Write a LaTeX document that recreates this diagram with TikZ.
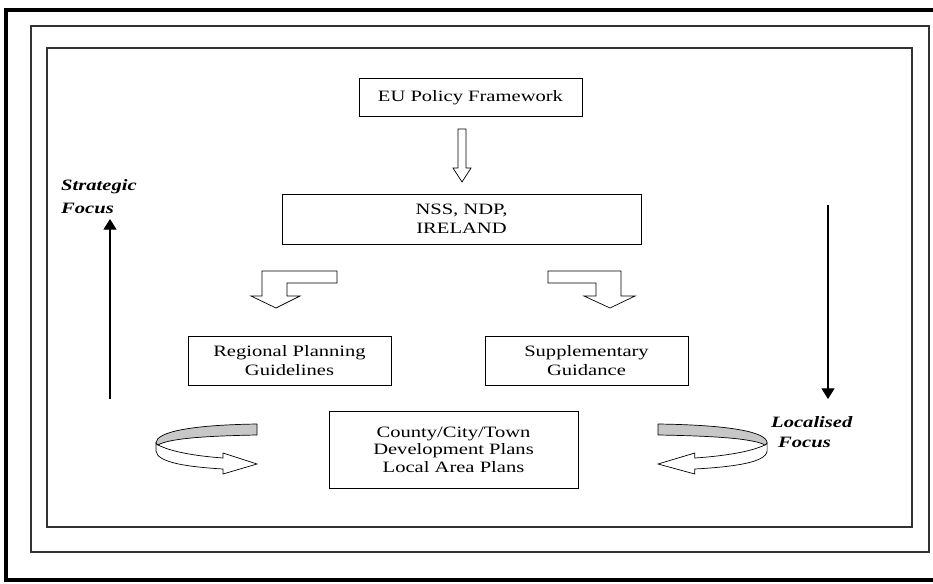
\documentclass[tikz,border=0pt]{standalone}
\usepackage{fontspec}
\setmainfont[FakeStretch=1.3]{Liberation Serif}
\usetikzlibrary{arrows.meta}
\tikzset{
  box/.style={draw=black, line width=0.8pt, fill=white, inner sep=0pt, align=center,
    font=\fontsize{13.5}{16}\selectfont},
  lbl/.style={font=\fontsize{13.5}{16}\selectfont\bfseries\itshape, inner sep=0pt, anchor=west},
  blockarrow/.style={draw=black, line width=0.6pt, fill=white, line join=miter},
  grayband/.style={draw=black, line width=0.6pt, fill=black!22, line join=round},
  whiteband/.style={draw=black, line width=0.6pt, fill=white, line join=miter},
  focusarrow/.style={draw=black, line width=1.1pt, -{Triangle[width=0.39cm,length=0.32cm]}},
  frame/.style={draw=black!80, line width=1.2pt}
}
\begin{document}
\begin{tikzpicture}[x=0.03cm,y=-0.03cm]
\useasboundingbox (0,0) rectangle (933,583);
% frames
\draw[line width=3.4pt] (945,10) -- (6,10) -- (6,580) -- (945,580);
\draw[frame] (31,26) rectangle (929,552);
\draw[frame] (47,48) rectangle (912,527);

% boxes
\node[box, minimum width=6.69cm, minimum height=1.14cm] (eu) at (470.5,97.5) {EU Policy Framework};
\node[box, minimum width=10.77cm, minimum height=1.5cm] (nss) at (461.5,219) {NSS, NDP,\\IRELAND};
\node[box, minimum width=6.09cm, minimum height=1.47cm] (rpg) at (289.5,360.5) {Regional Planning\\Guidelines};
\node[box, minimum width=6.09cm, minimum height=1.47cm] (sup) at (586.5,360.5) {Supplementary\\Guidance};
\node[box, minimum width=7.47cm, minimum height=2.31cm, font=\fontsize{13.5}{15}\selectfont] (cty) at (453.5,449.5) {County/City/Town\\Development Plans\\Local Area Plans};

% hollow arrows
\draw[blockarrow] (458,129) -- (466,129) -- (466,168) -- (471,168) -- (462,182) -- (453,168) -- (458,168) -- cycle;
\draw[blockarrow] (337,271) -- (262,271) -- (262,296) -- (251,296) -- (276,308) -- (300,296) -- (287,296) -- (287,283) -- (337,283) -- cycle;
\draw[blockarrow] (548,271) -- (621,271) -- (621,296) -- (635,296) -- (610,308) -- (584,296) -- (596,296) -- (596,283) -- (548,283) -- cycle;

% focus arrows and labels
\coordinate (sbot) at (110,399);
\coordinate (stop) at (110,219);
\draw[focusarrow] (sbot) -- (stop);
\node[lbl] (strat) at (61,187) {Strategic};
\node[lbl] (sfoc) at (61,208) {Focus};
\coordinate (ltop) at (828,205);
\coordinate (lbot) at (828,399);
\draw[focusarrow] (ltop) -- (lbot);
\node[lbl] (loc) at (771,422) {Localised};
\node[lbl] (lfoc) at (778,442) {Focus};

% curved arrows
\begin{scope}
  \draw[whiteband] (158,445) .. controls (172,452) and (196,456) .. (223,458) -- (223,453) -- (257,464) -- (223,474) -- (223,469) .. controls (190,467) and (157,463) .. (156,451) -- (156,443) -- cycle;
  \draw[grayband] (257,424) -- (257,435) .. controls (200,436) and (168,439) .. (158,445) -- (156,443) .. controls (156,432) and (190,425) .. (257,424) -- cycle;
\end{scope}
\begin{scope}[shift={(935.6,0)}, xscale=-1.08]
  \draw[whiteband] (158,445) .. controls (172,452) and (196,456) .. (223,458) -- (223,453) -- (257,464) -- (223,474) -- (223,469) .. controls (190,467) and (157,463) .. (156,451) -- (156,443) -- cycle;
  \draw[grayband] (257,424) -- (257,435) .. controls (200,436) and (168,439) .. (158,445) -- (156,443) .. controls (156,432) and (190,425) .. (257,424) -- cycle;
\end{scope}
\end{tikzpicture}
\end{document}
